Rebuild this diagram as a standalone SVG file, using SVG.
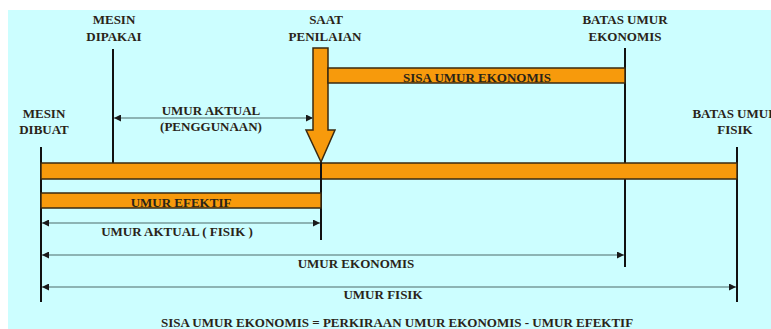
<svg xmlns="http://www.w3.org/2000/svg" width="771" height="329" viewBox="0 0 771 329">
  <defs>
    <style>
      .lbl { font-family: "Liberation Serif", "DejaVu Serif", serif; font-weight: bold; font-size: 13px; fill: #2a2418; text-anchor: middle; }
      .bar { fill: #F79A0C; stroke: #3a2a10; stroke-width: 1.5; }
      .tick { stroke: #111; stroke-width: 2; fill: none; }
      .dim { stroke: #4d6b6b; stroke-width: 1.2; fill: none; marker-start: url(#ah-start); marker-end: url(#ah-end); }
    </style>
    <marker id="ah-end" viewBox="0 0 10 10" refX="10" refY="5" markerWidth="8" markerHeight="7" markerUnits="userSpaceOnUse" orient="auto">
      <path d="M0,0 L10,5 L0,10 Z" fill="#1a1a1a"/>
    </marker>
    <marker id="ah-start" viewBox="0 0 10 10" refX="0" refY="5" markerWidth="8" markerHeight="7" markerUnits="userSpaceOnUse" orient="auto">
      <path d="M10,0 L0,5 L10,10 Z" fill="#1a1a1a"/>
    </marker>
  </defs>

  <!-- backdrop -->
  <rect x="0" y="0" width="771" height="329" fill="#ffffff"/>
  <rect x="8" y="10" width="763" height="319" fill="#CCFEFF"/>

  <!-- time markers -->
  <g id="mesin-dibuat">
    <line class="tick" x1="41" y1="147" x2="41" y2="302"/>
    <text class="lbl" x="44" y="118">MESIN</text>
    <text class="lbl" x="44" y="134">DIBUAT</text>
  </g>
  <g id="mesin-dipakai">
    <line class="tick" x1="113" y1="49" x2="113" y2="164"/>
    <text class="lbl" x="114" y="24">MESIN</text>
    <text class="lbl" x="114" y="41">DIPAKAI</text>
  </g>
  <g id="batas-umur-ekonomis">
    <line class="tick" x1="625" y1="48" x2="625" y2="267"/>
    <text class="lbl" x="625" y="24">BATAS UMUR</text>
    <text class="lbl" x="625" y="41">EKONOMIS</text>
  </g>
  <g id="batas-umur-fisik">
    <line class="tick" x1="737" y1="147" x2="737" y2="302"/>
    <text class="lbl" x="735" y="118">BATAS UMUR</text>
    <text class="lbl" x="735" y="134">FISIK</text>
  </g>

  <!-- main life bar -->
  <g id="main-bar">
    <rect class="bar" x="41" y="163" width="696" height="16"/>
  </g>

  <!-- valuation moment -->
  <g id="saat-penilaian">
    <line class="tick" x1="321" y1="160" x2="321" y2="240"/>
    <path class="bar" d="M313,48 L328,48 L328,130 L335,130 L321,162 L306,130 L313,130 Z"/>
    <text class="lbl" x="326" y="24">SAAT</text>
    <text class="lbl" x="325" y="41">PENILAIAN</text>
  </g>

  <g id="sisa-umur-ekonomis">
    <rect class="bar" x="328" y="68" width="297" height="15"/>
    <text class="lbl" x="477" y="82">SISA UMUR EKONOMIS</text>
  </g>

  <g id="umur-efektif">
    <rect class="bar" x="41" y="193" width="280" height="15"/>
    <text class="lbl" x="181" y="207">UMUR EFEKTIF</text>
  </g>

  <!-- span dimensions -->
  <g id="connectors">
    <line class="dim" x1="114" y1="118" x2="313" y2="118"/>
    <line class="dim" x1="42" y1="223" x2="320" y2="223"/>
    <line class="dim" x1="42" y1="255" x2="624" y2="255"/>
    <line class="dim" x1="42" y1="287" x2="736" y2="287"/>
  </g>

  <g id="span-labels">
    <text class="lbl" x="211" y="115">UMUR AKTUAL</text>
    <text class="lbl" x="211" y="131">(PENGGUNAAN)</text>
    <text class="lbl" x="177" y="236">UMUR AKTUAL ( FISIK )</text>
    <text class="lbl" x="356" y="268">UMUR EKONOMIS</text>
    <text class="lbl" x="383" y="299">UMUR FISIK</text>
    <text class="lbl" x="397" y="327">SISA UMUR EKONOMIS = PERKIRAAN UMUR EKONOMIS - UMUR EFEKTIF</text>
  </g>
</svg>
